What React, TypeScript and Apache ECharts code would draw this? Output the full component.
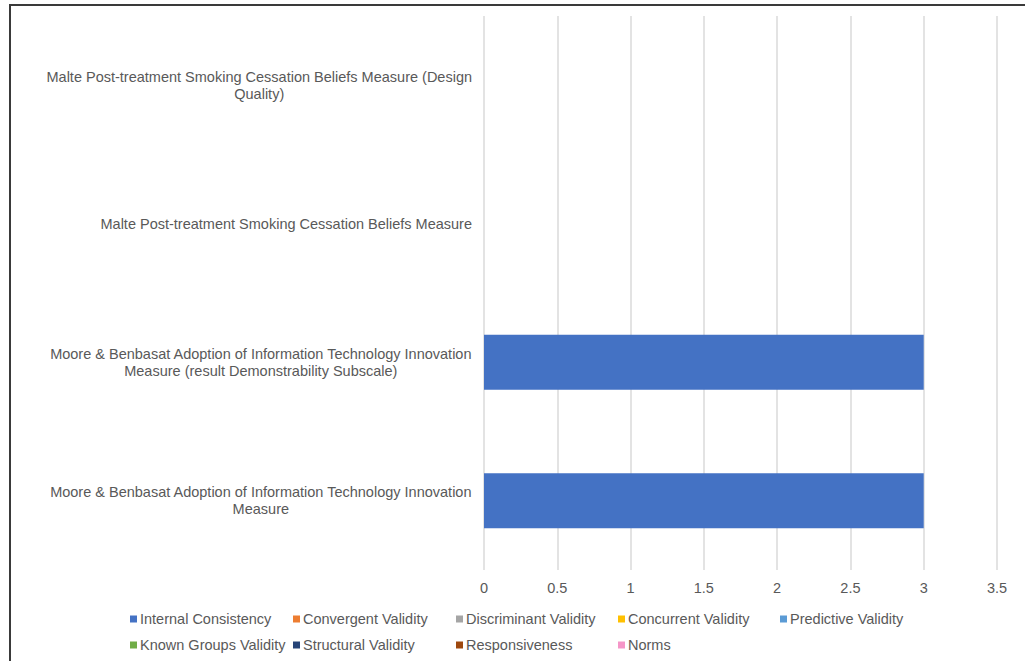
import React, { useEffect, useRef } from "react";
import * as echarts from "echarts";

const categories = [
  "Malte Post-treatment Smoking Cessation Beliefs Measure (Design Quality)",
  "Malte Post-treatment Smoking Cessation Beliefs Measure",
  "Moore & Benbasat Adoption of Information Technology Innovation Measure (result Demonstrability Subscale)",
  "Moore & Benbasat Adoption of Information Technology Innovation Measure",
];

const seriesNames = [
  "Internal Consistency",
  "Convergent Validity",
  "Discriminant Validity",
  "Concurrent Validity",
  "Predictive Validity",
  "Known Groups Validity",
  "Structural Validity",
  "Responsiveness",
  "Norms",
];

const seriesColors = [
  "#4472C4",
  "#ED7D31",
  "#A5A5A5",
  "#FFC000",
  "#5B9BD5",
  "#70AD47",
  "#264478",
  "#9E480E",
  "#F596C8",
];

const internalConsistency = [null, null, 3, 3];
const convergentValidity = [null, null, null, null];
const discriminantValidity = [null, null, null, null];
const concurrentValidity = [null, null, null, null];
const predictiveValidity = [null, null, null, null];
const knownGroupsValidity = [null, null, null, null];
const structuralValidity = [null, null, null, null];
const responsiveness = [null, null, null, null];
const norms = [null, null, null, null];

const seriesValues = [
  internalConsistency,
  convergentValidity,
  discriminantValidity,
  concurrentValidity,
  predictiveValidity,
  knownGroupsValidity,
  structuralValidity,
  responsiveness,
  norms,
];

const xTicks = { min: 0, max: 3.5, interval: 0.5 };

const FONT = "'Liberation Sans', Arial, sans-serif";
const FONT_SIZE = 14.5;
const TEXT_COLOR = "#595959";

let measureCtx: CanvasRenderingContext2D | null = null;
function measure(s: string): number {
  if (!measureCtx) {
    const c = document.createElement("canvas");
    measureCtx = c.getContext("2d");
  }
  if (!measureCtx) return s.length * 7;
  measureCtx.font = `${FONT_SIZE}px ${FONT}`;
  return measureCtx.measureText(s).width;
}

function wrap(text: string, maxW: number): string[] {
  const words = text.split(" ");
  const lines: string[] = [];
  let cur = "";
  for (const w of words) {
    const t = cur ? cur + " " + w : w;
    if (cur && measure(t) > maxW) {
      lines.push(cur);
      cur = w;
    } else {
      cur = t;
    }
  }
  if (cur) lines.push(cur);
  return lines;
}

const legendCols = [130, 293, 456, 618, 780];
const legendRows = [611, 637];

export default function App() {
  const ref = useRef<HTMLDivElement>(null);

  useEffect(() => {
    if (!ref.current) return;
    const chart = echarts.init(ref.current, null, { renderer: "svg" });

    const legends = seriesNames.map((name, i) => ({
      data: [name],
      left: legendCols[i < 5 ? i : i - 5],
      top: legendRows[i < 5 ? 0 : 1],
      padding: 0,
      icon: "rect",
      itemWidth: 7,
      itemHeight: 7,
      selectedMode: false,
      textStyle: {
        color: TEXT_COLOR,
        fontSize: FONT_SIZE,
        fontFamily: FONT,
        lineHeight: 16,
        padding: [0, 0, 0, -2],
      },
    }));

    chart.setOption({
      animation: false,
      color: seriesColors,
      textStyle: { fontFamily: FONT },
      grid: { left: 484, right: 28, top: 16, bottom: 91, containLabel: false },
      legend: legends,
      xAxis: {
        type: "value",
        min: xTicks.min,
        max: xTicks.max,
        interval: xTicks.interval,
        axisLine: { show: false },
        axisTick: { show: false },
        splitLine: { show: true, lineStyle: { color: "#DADADA", width: 1.5 } },
        axisLabel: {
          color: TEXT_COLOR,
          fontSize: FONT_SIZE,
          fontFamily: FONT,
          margin: 10,
          formatter: (v: number) => String(v),
        },
      },
      yAxis: {
        type: "category",
        data: categories,
        inverse: true,
        axisLine: { show: false },
        axisTick: { show: false },
        splitLine: { show: false },
        axisLabel: {
          margin: 12,
          align: "right",
          interval: 0,
          formatter: (v: string) =>
            wrap(v, 436)
              .map((l) => `{c|${l}}`)
              .join("\n"),
          rich: {
            c: {
              align: "center",
              color: TEXT_COLOR,
              fontSize: FONT_SIZE,
              fontFamily: FONT,
              lineHeight: 17,
            },
          },
        },
      },
      series: seriesNames.map((name, i) => ({
        name,
        type: "bar",
        stack: "all",
        data: seriesValues[i],
        barWidth: 55,
        itemStyle: { color: seriesColors[i] },
      })),
    });

    return () => chart.dispose();
  }, []);

  return (
    <div
      style={{
        position: "absolute",
        left: 0,
        top: 0,
        width: 1025,
        height: 661,
        overflow: "hidden",
        background: "#fff",
      }}
    >
      <div
        style={{
          position: "absolute",
          left: 9,
          top: 4,
          width: 1100,
          height: 800,
          borderLeft: "2px solid #3a3a3a",
          borderTop: "2px solid #3a3a3a",
        }}
      />
      <div
        ref={ref}
        style={{ position: "absolute", left: 0, top: 0, width: 1025, height: 661 }}
      />
    </div>
  );
}
